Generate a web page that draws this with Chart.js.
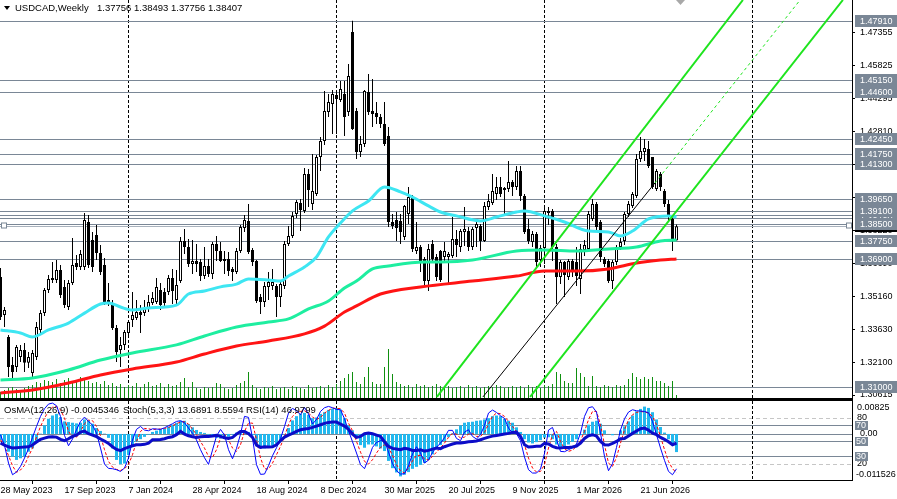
<!DOCTYPE html>
<html lang="en">
<head>
    <meta charset="UTF-8">
    <title>USDCAD Weekly</title>
    <style>
        body { margin: 0; background: #ffffff; }
        .panel { position: absolute; left: 0; }
        #mainPanel { top: 0; }
        #subPanel { top: 399px; }
    </style>
    <script src="https://cdn.jsdelivr.net/npm/chart.js"></script>
</head>
<body>
<canvas id="mainPanel" class="panel" width="897" height="399"></canvas>
<canvas id="subPanel" class="panel" width="897" height="100"></canvas>

<script>
    // weekly bars, 28 May 2023 .. 23 Aug 2026
    const opens = [
        1.3607, 1.3431, 1.3330, 1.3200, 1.3191, 1.3237, 1.3270, 1.3210, 1.3163, 1.3237,
        1.3362, 1.3440, 1.3547, 1.3593, 1.3593, 1.3639, 1.3561, 1.3468, 1.3579, 1.3671,
        1.3653, 1.3653, 1.3861, 1.3778, 1.3801, 1.3718, 1.3662, 1.3500, 1.3487, 1.3371,
        1.3270, 1.3293, 1.3348, 1.3408, 1.3417, 1.3445, 1.3440, 1.3463, 1.3487, 1.3491,
        1.3547, 1.3537, 1.3537, 1.3602, 1.3500, 1.3588, 1.3773, 1.3745, 1.3667, 1.3681,
        1.3676, 1.3611, 1.3658, 1.3621, 1.3759, 1.3727, 1.3681, 1.3690, 1.3644, 1.3630,
        1.3727, 1.3833, 1.3866, 1.3732, 1.3681, 1.3514, 1.3491, 1.3561, 1.3565, 1.3565,
        1.3514, 1.3565, 1.3759, 1.3796, 1.3898, 1.3949, 1.3912, 1.4083, 1.3944, 1.3990,
        1.4161, 1.4235, 1.4369, 1.4406, 1.4448, 1.4425, 1.4452, 1.4369, 1.4739, 1.4374,
        1.4184, 1.4221, 1.4462, 1.4374, 1.4365, 1.4346, 1.4314, 1.4258, 1.3861, 1.3870,
        1.3866, 1.3792, 1.3898, 1.3976, 1.3727, 1.3745, 1.3690, 1.3588, 1.3759, 1.3699,
        1.3727, 1.3699, 1.3699, 1.3704, 1.3782, 1.3745, 1.3815, 1.3819, 1.3745, 1.3833,
        1.3842, 1.3773, 1.3930, 1.3949, 1.3990, 1.4023, 1.4009, 1.4013, 1.4046, 1.4023,
        1.4097, 1.3981, 1.3829, 1.3768, 1.3805, 1.3685, 1.3741, 1.3912, 1.3912, 1.3745,
        1.3607, 1.3676, 1.3607, 1.3681, 1.3676, 1.3598, 1.3732, 1.3736, 1.3875, 1.3944,
        1.3861, 1.3690, 1.3681, 1.3588, 1.3676, 1.3745, 1.3773, 1.3898, 1.3935, 1.3981,
        1.4152, 1.4184, 1.4198, 1.4161, 1.4013, 1.4083, 1.4004, 1.3944, 1.3875, 1.37756
    ];
    const highs = [
        1.3648, 1.3468, 1.3339, 1.3237, 1.3293, 1.3293, 1.3302, 1.3260, 1.3270, 1.3399,
        1.3454, 1.3556, 1.3616, 1.3676, 1.3685, 1.3662, 1.3593, 1.3593, 1.3787, 1.3708,
        1.3732, 1.3902, 1.3893, 1.3815, 1.3847, 1.3755, 1.3695, 1.3579, 1.3500, 1.3385,
        1.3330, 1.3362, 1.3408, 1.3537, 1.3500, 1.3477, 1.3500, 1.3524, 1.3537, 1.3602,
        1.3579, 1.3556, 1.3616, 1.3644, 1.3639, 1.3792, 1.3829, 1.3782, 1.3778, 1.3759,
        1.3690, 1.3745, 1.3690, 1.3768, 1.3796, 1.3768, 1.3727, 1.3722, 1.3653, 1.3741,
        1.3847, 1.3893, 1.3944, 1.3741, 1.3685, 1.3528, 1.3584, 1.3630, 1.3644, 1.3574,
        1.3584, 1.3773, 1.3842, 1.3907, 1.3963, 1.3967, 1.4110, 1.4106, 1.4175, 1.4170,
        1.4254, 1.4466, 1.4452, 1.4471, 1.4462, 1.4512, 1.4512, 1.4591, 1.4791, 1.4388,
        1.4258, 1.4471, 1.4545, 1.4522, 1.4415, 1.4360, 1.4415, 1.4300, 1.3898, 1.3907,
        1.3898, 1.3939, 1.4023, 1.3986, 1.3861, 1.3755, 1.3699, 1.3759, 1.3778, 1.3713,
        1.3732, 1.3768, 1.3722, 1.3884, 1.3824, 1.3829, 1.3930, 1.3838, 1.3838, 1.3866,
        1.3852, 1.3953, 1.3990, 1.4083, 1.4069, 1.4069, 1.4023, 1.4143, 1.4055, 1.4120,
        1.4120, 1.3990, 1.3875, 1.3819, 1.3815, 1.3755, 1.3930, 1.3930, 1.3921, 1.3759,
        1.3685, 1.3681, 1.3690, 1.3690, 1.3745, 1.3759, 1.3778, 1.3912, 1.3967, 1.3953,
        1.3870, 1.3699, 1.3690, 1.3685, 1.3755, 1.3787, 1.3907, 1.3958, 1.4000, 1.4175,
        1.4254, 1.4244, 1.4235, 1.4161, 1.4106, 1.4092, 1.4013, 1.3963, 1.3884, 1.38493
    ];
    const lows = [
        1.3408, 1.3376, 1.3145, 1.3131, 1.3168, 1.3214, 1.3168, 1.3186, 1.3145, 1.3223,
        1.3348, 1.3427, 1.3533, 1.3579, 1.3579, 1.3510, 1.3463, 1.3454, 1.3570, 1.3639,
        1.3639, 1.3639, 1.3648, 1.3630, 1.3685, 1.3616, 1.3477, 1.3473, 1.3362, 1.3214,
        1.3191, 1.3270, 1.3339, 1.3376, 1.3408, 1.3348, 1.3427, 1.3445, 1.3477, 1.3482,
        1.3454, 1.3468, 1.3524, 1.3482, 1.3477, 1.3579, 1.3713, 1.3653, 1.3621, 1.3630,
        1.3588, 1.3598, 1.3607, 1.3598, 1.3681, 1.3676, 1.3621, 1.3611, 1.3588, 1.3621,
        1.3718, 1.3815, 1.3713, 1.3658, 1.3487, 1.3436, 1.3468, 1.3500, 1.3547, 1.3422,
        1.3468, 1.3551, 1.3750, 1.3787, 1.3879, 1.3819, 1.3902, 1.3930, 1.3916, 1.3981,
        1.4097, 1.4217, 1.4346, 1.4267, 1.4267, 1.4415, 1.4258, 1.4351, 1.4286, 1.4152,
        1.4161, 1.4207, 1.4355, 1.4300, 1.4314, 1.4295, 1.4212, 1.3838, 1.3829, 1.3773,
        1.3759, 1.3778, 1.3852, 1.3722, 1.3713, 1.3630, 1.3565, 1.3542, 1.3676, 1.3588,
        1.3584, 1.3676, 1.3574, 1.3695, 1.3699, 1.3722, 1.3750, 1.3727, 1.3732, 1.3745,
        1.3727, 1.3768, 1.3916, 1.3939, 1.3963, 1.3976, 1.3898, 1.3999, 1.3981, 1.4009,
        1.3958, 1.3805, 1.3759, 1.3745, 1.3653, 1.3653, 1.3667, 1.3847, 1.3681, 1.3482,
        1.3574, 1.3514, 1.3593, 1.3607, 1.3565, 1.3528, 1.3704, 1.3722, 1.3866, 1.3819,
        1.3676, 1.3653, 1.3579, 1.3551, 1.3662, 1.3732, 1.3755, 1.3884, 1.3926, 1.3972,
        1.4138, 1.4143, 1.4110, 1.4013, 1.4004, 1.4004, 1.3930, 1.3861, 1.3727, 1.37756
    ];
    const closes = [
        1.3422, 1.3454, 1.3191, 1.3168, 1.3283, 1.3270, 1.3210, 1.3237, 1.3256, 1.3376,
        1.3440, 1.3547, 1.3598, 1.3602, 1.3639, 1.3524, 1.3477, 1.3579, 1.3662, 1.3653,
        1.3713, 1.3870, 1.3662, 1.3653, 1.3718, 1.3630, 1.3491, 1.3487, 1.3371, 1.3260,
        1.3293, 1.3353, 1.3399, 1.3431, 1.3445, 1.3431, 1.3463, 1.3491, 1.3510, 1.3561,
        1.3477, 1.3487, 1.3602, 1.3542, 1.3570, 1.3773, 1.3745, 1.3667, 1.3681, 1.3667,
        1.3611, 1.3658, 1.3621, 1.3759, 1.3727, 1.3681, 1.3690, 1.3634, 1.3630, 1.3727,
        1.3838, 1.3870, 1.3722, 1.3676, 1.3496, 1.3491, 1.3565, 1.3584, 1.3584, 1.3514,
        1.3574, 1.3759, 1.3796, 1.3889, 1.3953, 1.3916, 1.4083, 1.4009, 1.4004, 1.4161,
        1.4235, 1.4374, 1.4415, 1.4452, 1.4429, 1.4475, 1.4346, 1.4535, 1.4291, 1.4184,
        1.4221, 1.4466, 1.4369, 1.4360, 1.4346, 1.4314, 1.4221, 1.3861, 1.3842, 1.3833,
        1.3815, 1.3935, 1.3976, 1.3736, 1.3745, 1.3681, 1.3588, 1.3736, 1.3690, 1.3607,
        1.3593, 1.3727, 1.3713, 1.3782, 1.3755, 1.3819, 1.3829, 1.3745, 1.3829, 1.3852,
        1.3773, 1.3935, 1.3958, 1.4004, 1.4023, 1.3990, 1.4018, 1.4046, 1.4023, 1.4097,
        1.3981, 1.3815, 1.3773, 1.3805, 1.3676, 1.3741, 1.3912, 1.3902, 1.3745, 1.3607,
        1.3676, 1.3616, 1.3681, 1.3630, 1.3611, 1.3736, 1.3755, 1.3898, 1.3944, 1.3838,
        1.3699, 1.3667, 1.3588, 1.3676, 1.3745, 1.3768, 1.3898, 1.3944, 1.3990, 1.4152,
        1.4189, 1.4203, 1.4120, 1.4023, 1.4097, 1.4023, 1.3944, 1.3889, 1.3776, 1.38407
    ];
    // tick volume, thousands
    const volumes = [
        6, 8, 10, 11, 9, 8, 10, 12, 13, 16,
        15, 18, 17, 16, 19, 15, 18, 20, 17, 16,
        21, 19, 17, 15, 16, 14, 17, 13, 15, 12,
        14, 11, 13, 12, 15, 11, 14, 16, 12, 13,
        15, 11, 14, 12, 13, 16, 20, 11, 16, 10,
        9, 11, 10, 11, 15, 14, 10, 9, 10, 13,
        15, 17, 26, 13, 10, 9, 11, 10, 12, 9,
        10, 11, 9, 12, 11, 10, 9, 13, 10, 11,
        12, 10, 13, 11, 14, 17, 20, 24, 26, 16,
        14, 21, 31, 16, 14, 14, 31, 49, 24, 16,
        14, 12, 13, 11, 14, 12, 13, 11, 12, 14,
        12, 11, 12, 10, 11, 12, 10, 13, 11, 12,
        10, 11, 12, 11, 13, 12, 10, 11, 12, 11,
        12, 10, 13, 11, 12, 10, 13, 12, 14, 26,
        24, 17, 15, 15, 30, 25, 21, 12, 22, 12,
        11, 13, 12, 11, 13, 12, 13, 19, 25, 21,
        19, 21, 19, 21, 17, 17, 15, 12, 17, 3
    ];

    // moving averages at sample weeks
    const maFastWeeks = [0, 5, 8, 12, 17, 21, 25, 27, 30, 33, 37, 44, 47, 51, 55, 59, 62, 67, 70, 72, 76, 79, 82, 85,
        88, 92, 96, 100, 103, 107, 110, 114, 120, 124, 129, 131, 136, 141, 147, 152, 155, 158, 162, 167, 169];
    const maFastVals = [1.3362, 1.3348, 1.3330, 1.3362, 1.3394, 1.3440, 1.3482, 1.3487, 1.3468, 1.3454, 1.3464, 1.3477,
        1.3528, 1.3542, 1.3561, 1.3574, 1.3598, 1.3593, 1.3588, 1.3611, 1.3653, 1.3699, 1.3792, 1.3856,
        1.3912, 1.3958, 1.4023, 1.4000, 1.3976, 1.3935, 1.3907, 1.3889, 1.3866, 1.3884, 1.3907, 1.3912,
        1.3889, 1.3861, 1.3819, 1.3815, 1.3796, 1.3819, 1.3875, 1.3889, 1.3884];
    const maMidWeeks = [0, 8, 17, 25, 33, 44, 51, 59, 67, 72, 77, 82, 86, 89, 93, 97, 106, 110, 118, 129, 136, 144, 152, 159, 165, 169];
    const maMidVals = [1.3131, 1.3140, 1.3177, 1.3223, 1.3256, 1.3293, 1.3334, 1.3376, 1.3399, 1.3413, 1.3459, 1.3496,
        1.3556, 1.3588, 1.3644, 1.3658, 1.3676, 1.3676, 1.3685, 1.3727, 1.3732, 1.3727, 1.3736, 1.3745, 1.3773, 1.3778];
    const maSlowWeeks = [0, 8, 17, 25, 33, 44, 51, 59, 67, 76, 81, 86, 89, 95, 105, 118, 129, 136, 144, 152, 159, 165, 169];
    const maSlowVals = [1.3071, 1.3085, 1.3117, 1.3154, 1.3182, 1.3214, 1.3251, 1.3288, 1.3311, 1.3344, 1.3380, 1.3445,
        1.3473, 1.3528, 1.3561, 1.3588, 1.3611, 1.3634, 1.3634, 1.3644, 1.3671, 1.3685, 1.3690];

    // OsMA(12,26,9), Stoch(5,3,3), RSI(14)
    const osma = [
        -0.00156, -0.00238, -0.00444, -0.00568, -0.00650, -0.00609, -0.00568, -0.00444, -0.00362, -0.00197,
        0.00009, 0.00215, 0.00380, 0.00462, 0.00503, 0.00421, 0.00314, 0.00297, 0.00281, 0.00265,
        0.00281, 0.00363, 0.00339, 0.00256, 0.00149, 0.00075, 0.00009, -0.00098, -0.00362, -0.00650,
        -0.00757, -0.00741, -0.00527, -0.00279, -0.00197, -0.00131, -0.00073, -0.00016, 0.00050, 0.00083,
        0.00116, 0.00133, 0.00182, 0.00232, 0.00281, 0.00330, 0.00330, 0.00248, 0.00166, 0.00100,
        0.00050, 0.00026, -0.00016, -0.00073, -0.00098, -0.00115, -0.00098, -0.00073, -0.00016, 0.00034,
        0.00067, 0.00091, 0.00050, -0.00032, -0.00263, -0.00362, -0.00362, -0.00337, -0.00296, -0.00246,
        -0.00156, -0.00016, 0.00149, 0.00339, 0.00446, 0.00503, 0.00528, 0.00479, 0.00396, 0.00413,
        0.00503, 0.00545, 0.00602, 0.00635, 0.00644, 0.00611, 0.00396, 0.00215, 0.00091, -0.00098,
        -0.00279, -0.00345, -0.00263, -0.00263, -0.00312, -0.00362, -0.00428, -0.00675, -0.00856, -0.00963,
        -0.01062, -0.01021, -0.00955, -0.00873, -0.00823, -0.00774, -0.00724, -0.00650, -0.00510, -0.00378,
        -0.00279, -0.00180, -0.00082, 0.00017, 0.00116, 0.00215, 0.00281, 0.00297, 0.00306, 0.00330,
        0.00339, 0.00363, 0.00396, 0.00446, 0.00462, 0.00446, 0.00380, 0.00330, 0.00281, 0.00166,
        0.00050, -0.00131, -0.00213, -0.00238, -0.00205, -0.00156, -0.00090, -0.00082, -0.00131, -0.00263,
        -0.00321, -0.00321, -0.00263, -0.00197, -0.00131, -0.00032, 0.00108, 0.00232, 0.00306, 0.00330,
        0.00256, 0.00091, 0.00001, -0.00032, 0.00001, 0.00091, 0.00190, 0.00314, 0.00462, 0.00569,
        0.00627, 0.00685, 0.00652, 0.00545, 0.00363, 0.00174, 0.00034, -0.00131, -0.00279, -0.0045346
    ];
    const stochMain = [
        57.8, 44.0, 21.1, 6.0, 9.5, 16.8, 27.6, 39.7, 54.3, 68.5,
        81.5, 91.4, 97.4, 98.7, 95.3, 81.5, 56.9, 43.5, 52.2, 64.2,
        75.0, 80.6, 75.0, 70.3, 59.9, 40.5, 19.8, 14.2, 13.8, 12.5,
        10.3, 14.7, 27.6, 50.9, 64.7, 68.5, 63.8, 62.9, 65.5, 65.1,
        64.7, 66.8, 69.4, 72.0, 75.0, 75.9, 73.3, 66.4, 59.5, 50.9,
        38.4, 28.0, 19.4, 37.9, 56.0, 64.7, 57.3, 38.4, 26.7, 40.1,
        58.6, 81.5, 80.2, 53.4, 19.0, 6.5, 6.9, 17.7, 30.6, 40.9,
        52.6, 68.5, 85.8, 91.8, 88.8, 83.6, 93.1, 84.5, 71.6, 77.6,
        87.9, 92.7, 94.4, 92.7, 90.5, 90.1, 78.4, 62.9, 48.7, 34.1,
        19.0, 13.8, 26.7, 41.4, 47.8, 50.0, 50.0, 35.3, 20.3, 11.2,
        6.9, 7.3, 17.7, 32.8, 42.2, 34.1, 21.1, 25.0, 34.9, 41.4,
        47.0, 53.9, 63.4, 63.4, 53.0, 50.0, 61.2, 64.2, 55.6, 52.2,
        57.8, 69.8, 85.8, 89.7, 86.6, 82.3, 78.9, 66.4, 59.9, 59.1,
        50.0, 28.9, 12.5, 8.2, 8.2, 13.4, 33.6, 63.8, 67.2, 51.7,
        36.2, 35.8, 38.4, 40.9, 45.7, 59.9, 81.5, 92.7, 94.0, 87.1,
        59.9, 29.7, 11.2, 20.3, 41.4, 63.8, 78.4, 87.1, 90.1, 88.8,
        88.4, 87.9, 86.2, 75.0, 57.8, 40.5, 24.6, 10.3, 6.0, 13.6891
    ];
    const stochSignal = [
        51.3, 42.7, 31.0, 17.7, 9.1, 12.1, 18.1, 29.7, 40.5, 54.7,
        68.5, 79.3, 87.9, 93.5, 94.4, 90.1, 79.3, 62.1, 54.7, 54.7,
        62.1, 72.0, 76.7, 75.9, 68.5, 56.5, 38.4, 23.3, 15.9, 12.9,
        11.6, 13.8, 19.0, 31.9, 49.1, 62.1, 65.9, 65.5, 64.2, 65.1,
        65.1, 65.9, 67.2, 69.4, 72.0, 74.1, 74.6, 71.6, 65.1, 57.8,
        49.1, 40.5, 29.7, 28.4, 38.4, 53.4, 58.6, 51.3, 40.5, 36.2,
        44.8, 62.1, 72.8, 72.8, 51.3, 27.6, 13.8, 13.4, 21.1, 31.9,
        42.7, 55.6, 70.7, 81.5, 86.6, 87.9, 88.8, 85.8, 80.6, 77.6,
        80.2, 85.8, 89.2, 92.2, 91.8, 91.4, 85.8, 72.8, 62.9, 49.1,
        35.3, 23.3, 19.8, 25.4, 34.1, 41.4, 44.8, 41.4, 31.0, 19.0,
        11.2, 8.2, 14.7, 24.1, 31.0, 31.0, 26.7, 25.0, 29.7, 35.3,
        40.5, 47.0, 54.3, 59.5, 58.6, 53.4, 54.7, 58.6, 59.5, 55.6,
        55.6, 60.8, 71.6, 81.5, 85.8, 84.9, 81.5, 75.0, 68.5, 62.1,
        56.5, 44.8, 27.6, 14.7, 9.5, 10.3, 19.0, 40.5, 57.8, 62.1,
        49.1, 39.7, 36.2, 37.9, 42.7, 50.0, 62.1, 77.2, 87.9, 87.9,
        70.7, 44.8, 21.1, 16.8, 28.4, 47.0, 64.2, 77.2, 83.6, 86.6,
        87.9, 87.1, 85.8, 81.5, 70.7, 55.6, 38.4, 23.3, 13.8, 8.5594
    ];
    const rsi = [
        47.0, 44.4, 42.2, 40.5, 40.9, 41.4, 41.8, 42.2, 44.4, 48.3,
        51.7, 53.4, 54.7, 55.2, 54.7, 51.7, 50.0, 52.6, 55.6, 57.3,
        61.2, 62.5, 59.1, 57.3, 55.2, 52.2, 49.6, 46.6, 42.2, 38.8,
        37.1, 39.7, 41.8, 43.5, 44.8, 44.8, 45.3, 47.0, 51.3, 51.3,
        51.7, 52.6, 54.3, 55.2, 57.8, 62.1, 58.6, 56.5, 55.2, 54.3,
        55.2, 55.6, 55.6, 56.0, 56.9, 55.6, 53.9, 53.0, 54.3, 58.6,
        62.1, 62.1, 59.1, 54.3, 44.4, 41.4, 42.2, 41.8, 42.2, 44.8,
        50.0, 54.7, 57.3, 59.5, 62.1, 64.2, 65.1, 65.9, 67.2, 69.0,
        70.7, 72.4, 73.7, 74.1, 74.1, 71.6, 69.0, 64.7, 58.6, 54.3,
        55.6, 59.1, 59.9, 59.1, 57.3, 55.6, 48.7, 42.7, 40.1, 39.2,
        38.4, 40.1, 39.2, 37.5, 37.5, 38.4, 36.6, 37.5, 39.2, 40.5,
        39.7, 42.2, 44.0, 45.7, 47.0, 47.0, 47.8, 48.7, 49.1, 49.6,
        51.3, 53.0, 54.7, 56.0, 56.9, 57.8, 58.6, 59.5, 60.8, 61.2,
        55.6, 44.8, 41.8, 42.2, 42.7, 42.7, 46.6, 45.7, 42.7, 40.9,
        40.5, 41.4, 41.4, 41.8, 43.1, 47.0, 53.0, 56.5, 57.8, 56.0,
        49.1, 44.8, 44.4, 46.6, 49.1, 52.6, 53.0, 56.0, 59.5, 62.5,
        65.5, 66.4, 63.8, 59.9, 57.8, 54.3, 51.7, 48.7, 44.8, 46.9799
    ];

    // horizontal levels and trend lines (anchor week, anchor price)
    const levels = [1.47910, 1.45150, 1.44600, 1.42450, 1.41750, 1.41300, 1.39650, 1.39100, 1.38500, 1.37750, 1.36900, 1.31000];
    const hiddenLevels = [1.38930, 1.38780];
    const selectedLevel = 1.38500;
    const channelUpperWeeks = [109.1, 185.6], channelUpperPrices = [1.30524, 1.48865];
    const channelLowerWeeks = [132.4, 210.6], channelLowerPrices = [1.30524, 1.48865];
    const midLineWeeks = [120.6, 163.6], midLinePrices = [1.30524, 1.40410];
    const midExtWeeks = [163.6, 199.9], midExtPrices = [1.40410, 1.48865];

    // axes
    const priceTicks = [1.47355, 1.45825, 1.44295, 1.42810, 1.41280, 1.39750, 1.38220, 1.36690, 1.35160, 1.33630, 1.32100, 1.30615];
    const tickWeeks = [0, 16, 32, 48, 64, 80, 96, 112, 128, 144, 160];
    const tickLabels = ['28 May 2023', '17 Sep 2023', '7 Jan 2024', '28 Apr 2024', '18 Aug 2024', '8 Dec 2024',
        '30 Mar 2025', '20 Jul 2025', '9 Nov 2025', '1 Mar 2026', '21 Jun 2026'];
    const yearWeeks = [32, 84, 136, 188];
    const osmaMin = -0.011526, osmaMax = 0.00825;

    const FONT = '"Liberation Sans", Arial, sans-serif';
    const SLATE = '#7a8796';
    const weeks = closes.map((_, i) => i);

    function pts(xs, ys) {
        return xs.map((x, k) => ({ x: x, y: ys[k] }));
    }

    function hline(ctx, a, py) {
        const y = Math.round(py) + 0.5;
        ctx.beginPath();
        ctx.moveTo(a.left, y);
        ctx.lineTo(a.right, y);
        ctx.stroke();
    }

    function yearLines(ctx, a, x) {
        ctx.strokeStyle = '#000';
        ctx.setLineDash([3, 2]);
        yearWeeks.forEach(w => {
            const px = Math.floor(x.getPixelForValue(w)) + 0.5;
            ctx.beginPath();
            ctx.moveTo(px, a.top);
            ctx.lineTo(px, a.bottom);
            ctx.stroke();
        });
        ctx.setLineDash([]);
    }

    // keep the plot flush with the canvas edges (no label overhang padding)
    function noPad(s) {
        s.paddingTop = 0;
        s.paddingBottom = 0;
        s.paddingLeft = 0;
        s.paddingRight = 0;
    }

    const mainDecor = {
        id: 'mainDecor',
        beforeDatasetsDraw(chart) {
            const { ctx, chartArea: a, scales } = chart;
            ctx.save();
            ctx.lineWidth = 1;
            yearLines(ctx, a, scales.x);
            ctx.strokeStyle = SLATE;
            hiddenLevels.concat(levels).forEach(p => hline(ctx, a, scales.y.getPixelForValue(p)));
            ctx.strokeStyle = '#a9b2bd';
            hline(ctx, a, scales.y.getPixelForValue(selectedLevel) + 2);
            ctx.restore();
        },
        afterDraw(chart) {
            const { ctx, chartArea: a, scales } = chart;
            const y = scales.y;
            ctx.save();
            ctx.fillStyle = '#000';
            ctx.fillRect(0, a.bottom, a.right + 1, 1);

            // header
            ctx.beginPath();
            ctx.moveTo(4, 6); ctx.lineTo(10, 6); ctx.lineTo(7, 10); ctx.closePath();
            ctx.fill();
            ctx.font = '9.5px ' + FONT;
            ctx.textBaseline = 'middle';
            ctx.textAlign = 'left';
            ctx.fillText('USDCAD,Weekly', 15, 8);
            ctx.fillText([opens[169], highs[169], lows[169], closes[169]].map(v => v.toFixed(5)).join(' '), 97, 8);

            // chart shift marker
            ctx.fillStyle = '#a8a8a8';
            ctx.beginPath();
            ctx.moveTo(676, 0); ctx.lineTo(685, 0); ctx.lineTo(680.5, 5); ctx.closePath();
            ctx.fill();

            // anchors of the selected line
            const sy = Math.round(y.getPixelForValue(selectedLevel)) + 1.5;
            ctx.strokeStyle = SLATE;
            ctx.fillStyle = '#fff';
            [1.5, a.right - 5.5].forEach(sx => {
                ctx.fillRect(sx, sy - 2.5, 5, 5);
                ctx.strokeRect(sx, sy - 2.5, 5, 5);
            });

            // price boxes on the axis
            ctx.font = '9px ' + FONT;
            const box = (p, bg) => {
                const py = Math.round(y.getPixelForValue(p));
                ctx.fillStyle = bg;
                ctx.fillRect(a.right + 3, py - 6, 42, 12);
                ctx.fillStyle = '#fff';
                ctx.fillText(p.toFixed(5), a.right + 8, py + 0.5);
            };
            hiddenLevels.forEach(p => box(p, SLATE));
            box(closes[closes.length - 1], '#000');
            levels.forEach(p => box(p, SLATE));
            ctx.restore();
        }
    };

    const subDecor = {
        id: 'subDecor',
        beforeDatasetsDraw(chart) {
            const { ctx, chartArea: a, scales } = chart;
            ctx.save();
            ctx.lineWidth = 1;
            ctx.strokeStyle = '#c6c6c6';
            ctx.setLineDash([4, 3]);
            [80, 20].forEach(v => hline(ctx, a, scales.ys.getPixelForValue(v)));
            ctx.setLineDash([]);
            ctx.strokeStyle = SLATE;
            [70, 50, 30].forEach(v => hline(ctx, a, scales.ys.getPixelForValue(v)));
            hline(ctx, a, scales.yo.getPixelForValue(0));
            yearLines(ctx, a, scales.x);
            ctx.restore();
        },
        afterDraw(chart) {
            const { ctx, chartArea: a, scales } = chart;
            const ys = scales.ys, yo = scales.yo;
            ctx.save();
            ctx.fillStyle = '#000';
            ctx.fillRect(0, 0, a.right + 1, 2);
            ctx.fillRect(a.right, a.top, 1, a.bottom - a.top);

            ctx.font = '9.5px ' + FONT;
            ctx.textBaseline = 'middle';
            ctx.textAlign = 'left';
            ctx.fillText('OsMA(12,26,9) ' + osma[169].toFixed(7), 4, 11);
            ctx.fillText('Stoch(5,3,3) ' + stochMain[169].toFixed(4) + ' ' + stochSignal[169].toFixed(4), 123, 11);
            ctx.fillText('RSI(14) ' + rsi[169].toFixed(4), 246, 11);

            ctx.font = '9px ' + FONT;
            const lx = a.right + 5;
            ctx.fillText(osmaMax.toFixed(5), lx, a.top + 7);
            ctx.fillText('80', lx, ys.getPixelForValue(80));
            ctx.fillText('0.00', lx + 3, yo.getPixelForValue(0));
            ctx.fillText('20', lx, ys.getPixelForValue(20));
            ctx.fillText(osmaMin.toFixed(6), lx - 1, a.bottom - 5);
            [70, 50, 30].forEach(v => {
                const py = Math.round(ys.getPixelForValue(v));
                ctx.fillStyle = SLATE;
                ctx.fillRect(a.right + 3, py - 4, 13, 9);
                ctx.fillStyle = '#fff';
                ctx.fillText(String(v), a.right + 4, py + 0.5);
            });
            ctx.restore();
        }
    };

    const xRange = { type: 'linear', min: -0.125, max: 212.875, offset: false };
    const quiet = { legend: { display: false }, tooltip: { enabled: false } };

    new Chart(document.getElementById('mainPanel'), {
        type: 'bar',
        data: {
            datasets: [
                { type: 'line', data: pts(channelUpperWeeks, channelUpperPrices), borderColor: '#1ee41e', borderWidth: 2, pointRadius: 0, order: 0 },
                { type: 'line', data: pts(channelLowerWeeks, channelLowerPrices), borderColor: '#1ee41e', borderWidth: 2, pointRadius: 0, order: 0 },
                { type: 'line', data: pts(midLineWeeks, midLinePrices), borderColor: '#000000', borderWidth: 1, pointRadius: 0, order: 0 },
                { type: 'line', data: pts(midExtWeeks, midExtPrices), borderColor: '#1ee41e', borderWidth: 1, borderDash: [3, 3], pointRadius: 0, order: 0 },
                { type: 'line', data: pts(maFastWeeks, maFastVals), borderColor: '#3ee6f2', borderWidth: 3, pointRadius: 0, cubicInterpolationMode: 'monotone', order: 1 },
                { type: 'line', data: pts(maMidWeeks, maMidVals), borderColor: '#1eeea0', borderWidth: 3, pointRadius: 0, cubicInterpolationMode: 'monotone', order: 2 },
                { type: 'line', data: pts(maSlowWeeks, maSlowVals), borderColor: '#ff1414', borderWidth: 3, pointRadius: 0, cubicInterpolationMode: 'monotone', order: 3 },
                {
                    data: weeks.map(i => ({ x: i, y: [opens[i], closes[i]] })),
                    backgroundColor: weeks.map(i => closes[i] >= opens[i] ? '#ffffff' : '#000000'),
                    borderColor: '#000000', borderWidth: 1, borderSkipped: false,
                    barThickness: 3, minBarLength: 1, grouped: false, inflateAmount: 0, order: 4
                },
                {
                    data: weeks.map(i => ({ x: i, y: [lows[i], highs[i]] })),
                    backgroundColor: '#000000', borderWidth: 0,
                    barThickness: 1, grouped: false, inflateAmount: 0, order: 5
                },
                {
                    data: weeks.map(i => ({ x: i, y: volumes[i] })), yAxisID: 'yv',
                    backgroundColor: '#0f8f0f', borderWidth: 0,
                    barThickness: 1, grouped: false, inflateAmount: 0, order: 6
                }
            ]
        },
        options: {
            responsive: false,
            animation: false,
            events: [],
            layout: { padding: { left: 0, right: 0, top: 0, bottom: 1 } },
            plugins: quiet,
            scales: {
                x: Object.assign({ display: false }, xRange),
                y: {
                    position: 'right',
                    min: 1.30477,
                    max: 1.48865,
                    afterFit: s => { s.width = 45; noPad(s); },
                    afterBuildTicks: s => { s.ticks = priceTicks.map(v => ({ value: v })); },
                    ticks: {
                        callback: v => Number(v).toFixed(5),
                        color: '#000000',
                        font: { family: FONT, size: 9 },
                        padding: 5,
                        autoSkip: false
                    },
                    grid: { drawOnChartArea: false, tickLength: 3, color: '#000000' },
                    border: { color: '#000000' }
                },
                yv: { display: false, min: 0, max: 398 }
            }
        },
        plugins: [mainDecor]
    });

    new Chart(document.getElementById('subPanel'), {
        type: 'bar',
        data: {
            datasets: [
                { type: 'line', data: weeks.map(i => ({ x: i, y: rsi[i] })), yAxisID: 'ys', borderColor: '#0c0cc8', borderWidth: 3, pointRadius: 0, order: 0 },
                { type: 'line', data: weeks.map(i => ({ x: i, y: stochMain[i] })), yAxisID: 'ys', borderColor: '#0000ff', borderWidth: 1, pointRadius: 0, order: 1 },
                { type: 'line', data: weeks.map(i => ({ x: i, y: stochSignal[i] })), yAxisID: 'ys', borderColor: '#ff0000', borderWidth: 1, borderDash: [3, 2], pointRadius: 0, order: 2 },
                {
                    data: weeks.map(i => ({ x: i, y: osma[i] })), yAxisID: 'yo',
                    backgroundColor: '#22b8ee', borderWidth: 0,
                    barThickness: 3, grouped: false, inflateAmount: 0, order: 3
                }
            ]
        },
        options: {
            responsive: false,
            animation: false,
            events: [],
            layout: { padding: { left: 0, right: 45, top: 2, bottom: 0 } },
            plugins: quiet,
            scales: {
                x: Object.assign({
                    afterFit: s => { s.height = 19; noPad(s); },
                    afterBuildTicks: s => { s.ticks = tickWeeks.map(v => ({ value: v })); },
                    ticks: {
                        callback: (v, i) => tickLabels[i],
                        align: 'start',
                        color: '#000000',
                        font: { family: FONT, size: 9 },
                        padding: 1,
                        autoSkip: false,
                        maxRotation: 0,
                        minRotation: 0
                    },
                    grid: { drawOnChartArea: false, tickLength: 4, color: '#000000' },
                    border: { color: '#000000' }
                }, xRange),
                yo: { display: false, min: osmaMin, max: osmaMax },
                ys: { display: false, min: -0.8, max: 101.4 }
            }
        },
        plugins: [subDecor]
    });
</script>
</body>
</html>
